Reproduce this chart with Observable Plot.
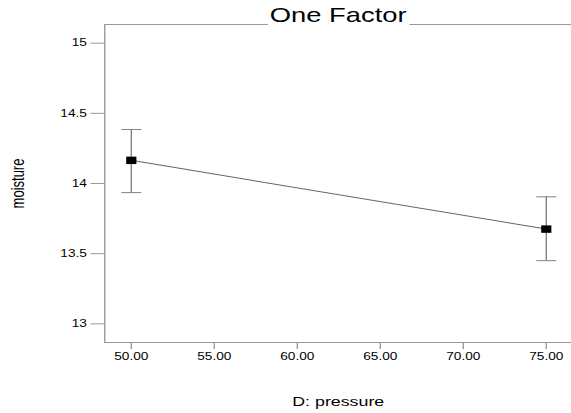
<!DOCTYPE html>
<html><head><meta charset="utf-8">
<script src="https://cdn.jsdelivr.net/npm/d3@7"></script>
<script src="https://cdn.jsdelivr.net/npm/@observablehq/plot@0.6"></script>
<style>
html,body{margin:0;padding:0;background:#fff;}
#chart{width:571px;height:413px;overflow:hidden;}
#chart svg{transform:scaleX(1.3693);transform-origin:0 0;display:block;}
</style></head><body><div id="chart"></div>
<script>
const pressure = [50, 75];
const moisture = [14.165, 13.675];
const lower = [13.935, 13.45];
const upper = [14.385, 13.905];
const xTicks = [50, 55, 60, 65, 70, 75];
const yTicks = [13, 13.5, 14, 14.5, 15];
const xDomain = [48.4, 76.53];
const yDomain = [12.867, 15.133];
const title = "One Factor";
const xLabel = "D: pressure";
const yLabel = "moisture";

const data = pressure.map((p, i) => ({p, m: moisture[i], lo: lower[i], hi: upper[i]}));
const caps = data.flatMap(d => [{p: d.p, v: d.lo}, {p: d.p, v: d.hi}]);

const hline = {draw(ctx, size) { const r = Math.sqrt(size / Math.PI); ctx.moveTo(-r, 0); ctx.lineTo(r, 0); }};

const frameColor = "#999";
const chart = Plot.plot({
  width: 417, height: 413,
  marginLeft: 76, marginRight: 0, marginTop: 24, marginBottom: 71,
  style: {fontFamily: "'Liberation Sans', Arial, sans-serif", background: "white", color: "black"},
  x: {domain: xDomain},
  y: {domain: yDomain},
  marks: [
    Plot.ruleX([xDomain[0]], {stroke: frameColor}),
    Plot.ruleY([yDomain[0]], {stroke: frameColor}),
    Plot.ruleY([yDomain[1]], {stroke: frameColor}),
    Plot.axisY({ticks: yTicks, tickSize: 10, tickPadding: 3, tickFormat: d => String(d), fontSize: 10, stroke: frameColor, fill: "black", label: null}),
    Plot.axisX({ticks: xTicks, tickSize: 7, tickPadding: 3, tickFormat: d3.format(".2f"), fontSize: 10, stroke: frameColor, fill: "black", label: null}),
    Plot.ruleX(data, {x: "p", y1: "lo", y2: "hi", stroke: "#808080"}),
    Plot.dot(caps, {x: "p", y: "v", symbol: hline, r: 7.3, stroke: "#808080", strokeWidth: 1}),
    Plot.line(data, {x: "p", y: "m", stroke: "#666", strokeWidth: 1}),
    Plot.dot(data, {x: "p", y: "m", symbol: "square", r: 4.2, fill: "black", stroke: "none"}),
    Plot.text([title], {frameAnchor: "top", lineAnchor: "bottom", dy: -3, fontSize: 20, fill: "black", stroke: "white", strokeWidth: 12, paintOrder: "stroke"}),
    Plot.text([xLabel], {frameAnchor: "bottom", lineAnchor: "bottom", dy: 63, fontSize: 13, fill: "black"}),
    Plot.text([yLabel], {frameAnchor: "left", textAnchor: "middle", rotate: -90, lineAnchor: "bottom", dx: -59, fontSize: 13, fill: "black"})
  ]
});
document.getElementById("chart").appendChild(chart);
</script></body></html>
